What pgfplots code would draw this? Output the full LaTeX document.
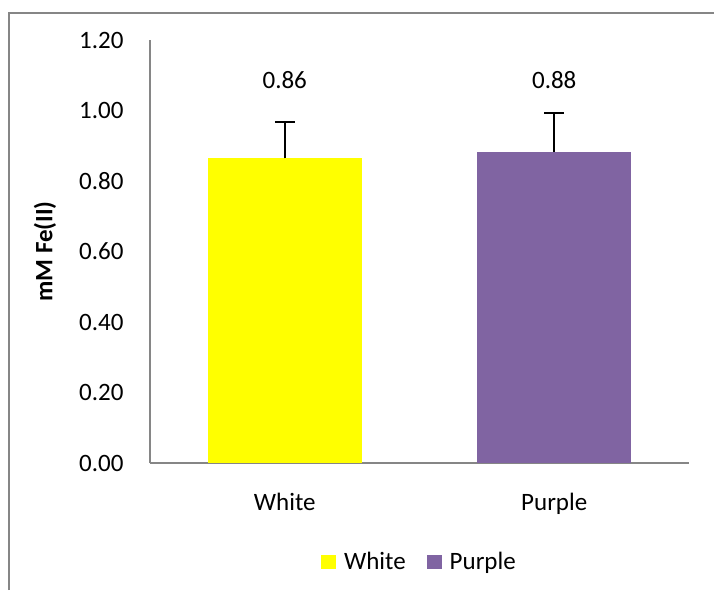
\documentclass[border=0pt]{standalone}
\usepackage{pgfplots}
\pgfplotsset{compat=1.18}
\usepackage{fontspec}
\setmainfont{Carlito}
\definecolor{yel}{HTML}{FFFF00}
\definecolor{pur}{HTML}{8064A2}
\definecolor{axgray}{HTML}{868686}
\begin{document}
\begin{tikzpicture}[x=1pt,y=1pt]
\useasboundingbox (0,0) rectangle (714,590);
\draw[axgray, line width=1.2pt] (9,0) -- (9,577) -- (714,577);
\begin{axis}[
  at={(150pt,127pt)}, anchor=south west,
  scale only axis, width=539pt, height=423pt,
  xmin=-0.5, xmax=1.5, ymin=0, ymax=1.2,
  axis x line=bottom, axis y line=left,
  axis line style={axgray, line width=1.5pt, -},
  major tick length=0pt,
  xtick={0,1}, xticklabels={White,Purple},
  ytick={0,0.2,0.4,0.6,0.8,1.0,1.2},
  yticklabel style={/pgf/number format/fixed, /pgf/number format/precision=2, /pgf/number format/zerofill, xshift=-23pt},
  /pgf/number format/assume math mode=true,
  xticklabel style={yshift=-27pt},
  ticklabel style={font=\fontsize{25}{28}\selectfont},
  ylabel={mM Fe(II)},
  ylabel style={font=\fontsize{25}{28}\selectfont\bfseries, at={(axis description cs:-0.195,0.5)}, anchor=center},
  legend style={at={(0.498,-0.234)}, anchor=center, draw=none, legend columns=2, font=\fontsize{25}{28}\selectfont,
    nodes={inner sep=0pt}, column sep=8pt,
    /tikz/every even column/.append style={column sep=21pt}},
  legend image code/.code={\fill (0pt,-7pt) rectangle (15pt,7pt);},
  clip=false,
]
\addplot[ybar, bar width=154pt, bar shift=0pt, fill=yel, draw=none,
  error bars/.cd, y dir=plus, y explicit,
  error bar style={black, line width=1.6pt},
  error mark options={rotate=90, mark size=10pt, black, line width=1.6pt}]
  coordinates {(0,0.864) +- (0,0.103)};
\addlegendentry{White}
\addplot[ybar, bar width=154pt, bar shift=0pt, fill=pur, draw=none,
  error bars/.cd, y dir=plus, y explicit,
  error bar style={black, line width=1.6pt},
  error mark options={rotate=90, mark size=10pt, black, line width=1.6pt}]
  coordinates {(1,0.882) +- (0,0.111)};
\addlegendentry{Purple}
\node[font=\fontsize{25}{28}\selectfont] at (axis cs:0,1.087) {0.86};
\node[font=\fontsize{25}{28}\selectfont] at (axis cs:1,1.087) {0.88};
\end{axis}
\end{tikzpicture}
\end{document}
